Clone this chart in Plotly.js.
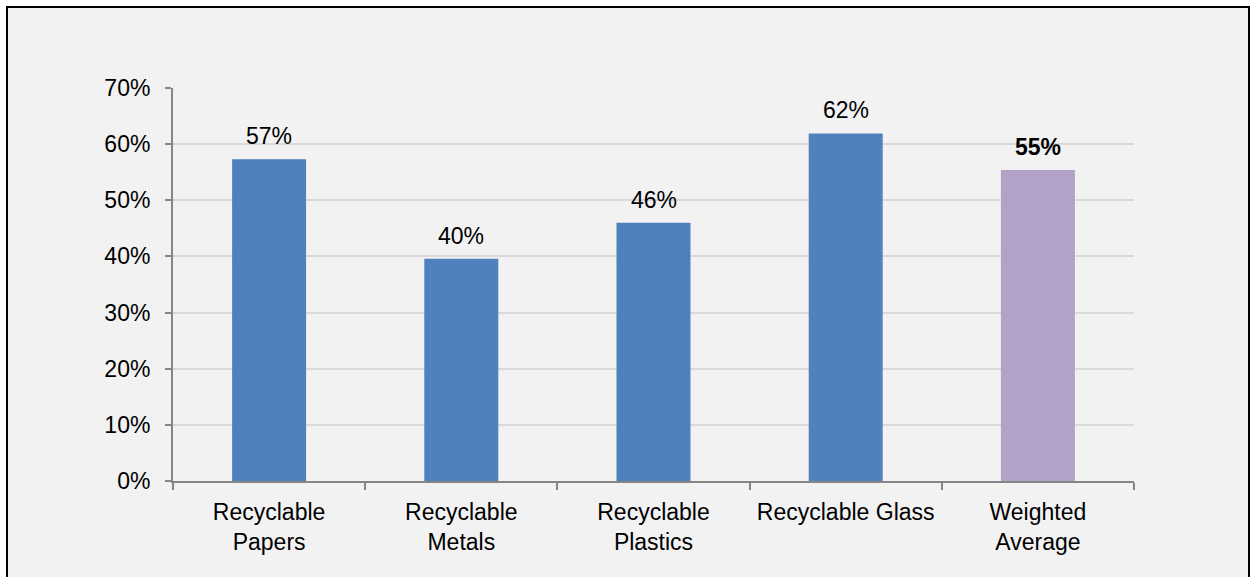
<!DOCTYPE html>
<html>
<head>
<meta charset="utf-8">
<script src="https://cdn.plot.ly/plotly-3.0.1.min.js"></script>
<style>
  html, body { margin: 0; padding: 0; background: #ffffff; width: 1251px; height: 577px; overflow: hidden; }
  #frame { position: absolute; left: 6px; top: 6px; width: 1244px; height: 620px; box-sizing: border-box; border: 2px solid #000; background: #F2F2F2; }
  #chart { position: absolute; left: 0; top: 0; width: 1251px; height: 577px; }
</style>
</head>
<body>
<div id="frame"></div>
<div id="chart"></div>
<script>
const categories = ["Recyclable<br>Papers", "Recyclable<br>Metals", "Recyclable<br>Plastics", "Recyclable Glass", "Weighted<br>Average"];
const values = [0.573, 0.396, 0.460, 0.619, 0.554];
const barColors = ["#4F81BD", "#4F81BD", "#4F81BD", "#4F81BD", "#B3A2C7"];
const boldLabel = [false, false, false, false, true];
const yTickVals = [0, 0.1, 0.2, 0.3, 0.4, 0.5, 0.6, 0.7];

const font = "Liberation Sans, Arial, sans-serif";
const fs = 23;

const trace = {
  type: "bar",
  x: categories,
  y: values,
  marker: { color: barColors, line: { width: 0 } },
  hoverinfo: "skip"
};

const annotations = categories.map((c, i) => {
  const t = Math.round(values[i] * 100) + "%";
  return {
    x: c, y: values[i], xref: "x", yref: "y",
    text: boldLabel[i] ? "<b>" + t + "</b>" : t,
    showarrow: false, yanchor: "bottom", xanchor: "center",
    yshift: 8,
    font: { family: font, size: fs, color: "#000" }
  };
});

const layout = {
  width: 1251, height: 577,
  margin: { l: 173, r: 117, t: 88, b: 96, pad: 0 },
  paper_bgcolor: "rgba(0,0,0,0)",
  plot_bgcolor: "rgba(0,0,0,0)",
  bargap: 0.615,
  showlegend: false,
  font: { family: font, size: fs, color: "#000" },
  xaxis: {
    type: "category",
    tickson: "boundaries",
    ticks: "outside", ticklen: 7, tickcolor: "#868686", tickwidth: 2,
    showline: true, linecolor: "#868686", linewidth: 2,
    showgrid: false, zeroline: false,
    tickfont: { family: font, size: fs, color: "#000" },
    ticklabelstandoff: 9
  },
  yaxis: {
    range: [0, 0.7],
    tickvals: yTickVals,
    tickformat: ".0%",
    ticks: "outside", ticklen: 6, tickcolor: "#868686", tickwidth: 2,
    showline: true, linecolor: "#868686", linewidth: 2,
    showgrid: true, gridcolor: "#D9D9D9", gridwidth: 2,
    zeroline: false,
    tickfont: { family: font, size: fs, color: "#000" },
    ticklabelstandoff: 10
  },
  annotations: annotations
};

Plotly.newPlot("chart", [trace], layout, { displayModeBar: false, staticPlot: true });
</script>
</body>
</html>
